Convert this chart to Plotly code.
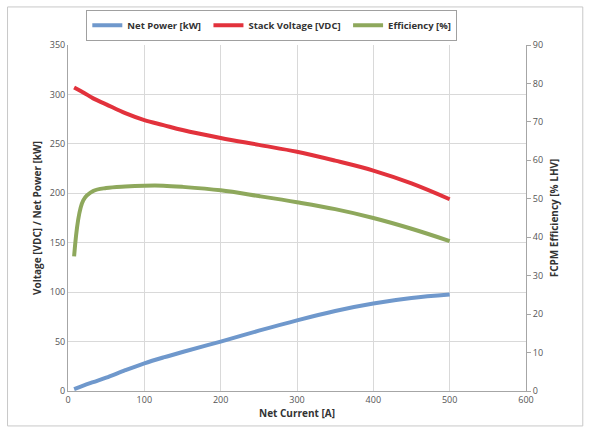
import plotly.graph_objects as go

current = [8, 20, 33, 50, 75, 100, 125, 150, 200, 250, 300, 350, 400, 450, 500]
net_power = [2, 5.5, 9, 13.5, 21, 28, 34, 39.5, 50, 61, 71.5, 81, 88.5, 94, 97.5]
stack_voltage = [307, 302, 296, 290, 281, 274, 269, 264, 256, 249, 242, 233, 223, 210, 194]
efficiency = [35, 49.6, 52.0, 52.8, 53.2, 53.4, 53.4, 53.1, 52.2, 50.7, 49.1, 47.3, 45.0, 42.2, 39.0]

font_family = "Open Sans, Liberation Sans, sans-serif"

fig = go.Figure()
fig.add_trace(go.Scatter(x=current, y=net_power, mode="lines", name="<b>Net Power [kW]</b> ",
                         line=dict(color="#6F98CC", width=4, shape="spline")))
fig.add_trace(go.Scatter(x=current, y=stack_voltage, mode="lines", name="<b>Stack Voltage [VDC]</b> ",
                         line=dict(color="#E2323C", width=4, shape="spline")))
fig.add_trace(go.Scatter(x=current, y=efficiency, mode="lines", name="<b>Efficiency [%]</b>",
                         yaxis="y2", line=dict(color="#8EA85C", width=4, shape="spline")))

fig.update_layout(
    width=590, height=433,
    margin=dict(l=68, r=64, t=45, b=42, autoexpand=False),
    paper_bgcolor="white", plot_bgcolor="white",
    font=dict(family=font_family, size=9, color="#444444"),
    showlegend=True,
    legend=dict(orientation="h", x=0.445, y=1.012, xanchor="center", yanchor="bottom",
                bordercolor="#A0A0A0", borderwidth=1, bgcolor="white",
                font=dict(size=9.5, color="#333333"), itemwidth=30, tracegroupgap=0),
    xaxis=dict(range=[0, 600], dtick=100, showgrid=True, gridcolor="#D9D9D9", gridwidth=1,
               showline=True, linecolor="#A6A6A6", linewidth=1, zeroline=False, ticks="",
               title=dict(text="<b>Net Current [A]</b>", font=dict(size=10, color="#333333"), standoff=4),
               tickfont=dict(size=9, color="#555555")),
    yaxis=dict(range=[0, 350], dtick=50, showgrid=True, gridcolor="#D9D9D9", gridwidth=1,
               showline=True, linecolor="#A6A6A6", linewidth=1, zeroline=False, ticks="",
               title=dict(text="<b>Voltage [VDC] / Net Power [kW]</b>", font=dict(size=10, color="#333333"), standoff=6),
               tickfont=dict(size=9, color="#555555")),
    yaxis2=dict(range=[0, 90], dtick=10, overlaying="y", side="right", showgrid=False,
                showline=True, linecolor="#A6A6A6", linewidth=1, zeroline=False,
                ticks="outside", ticklen=4, tickcolor="#A6A6A6",
                title=dict(text="<b>FCPM Efficiency [% LHV]</b>", font=dict(size=10, color="#333333"), standoff=8),
                tickfont=dict(size=9, color="#555555")),
    shapes=[dict(type="rect", xref="paper", yref="paper", x0=-0.132, x1=1.124, y0=-0.101, y1=1.110,
                 line=dict(color="#C8C8C8", width=1), fillcolor="rgba(0,0,0,0)", layer="below")],
)

fig.write_html("out.html", config={"displayModeBar": False},
               post_script="document.body.style.margin='0';document.body.style.padding='0';")
